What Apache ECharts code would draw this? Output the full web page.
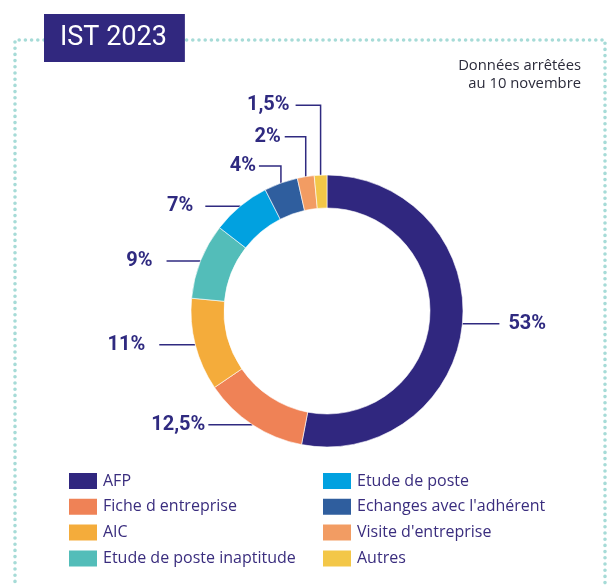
<!DOCTYPE html>
<html>
<head>
<meta charset="utf-8">
<script src="https://cdn.jsdelivr.net/npm/echarts@6/dist/echarts.min.js"></script>
<style>
html,body{margin:0;padding:0;background:#fff;}
#chart{width:614px;height:585px;}
</style>
</head>
<body>
<div id="chart"></div>
<script>
const categories = ['AFP', 'Fiche d entreprise', 'AIC', 'Etude de poste inaptitude', 'Etude de poste', "Echanges avec l'adhérent", "Visite d'entreprise", 'Autres'];
const values = [53, 12.5, 11, 9, 7, 4, 2, 1.5];
const titleText = 'IST 2023';
const noteText = 'Données arrêtées\nau 10 novembre';

const colors = ['#30277f', '#ef8256', '#f4ac3b', '#53bdb9', '#01a1e0', '#2f5e9e', '#f29c63', '#f3c748'];
const ink = '#2f2a80';

// leader-line styles per slice: horizontal (h) or elbow up then left (v)
const leaders = [
  {kind: 'h', len: 37, gap: 9},
  {kind: 'h', len: -44, gap: 3},
  {kind: 'h', len: -36, gap: 14},
  {kind: 'h', len: -34, gap: 14},
  {kind: 'h', len: -35, gap: 12},
  {kind: 'v', rise: 17, len: 22, gap: 3},
  {kind: 'v', rise: 40, len: 21, gap: 4},
  {kind: 'v', rise: 70, len: 25, gap: 6}
];

const chart = echarts.init(document.getElementById('chart'), null, {renderer: 'canvas'});

const seriesData = categories.map((name, i) => ({name: name, value: values[i], itemStyle: {color: colors[i]}}));

const legendCommon = {
  orient: 'vertical',
  icon: 'rect',
  itemWidth: 30,
  itemHeight: 18,
  itemGap: 5.8,
  padding: 0,
  height: 114,
  selectedMode: false,
  textStyle: {fontFamily: 'Open Sans', fontSize: 16, color: '#3a2d7e', lineHeight: 20}
};

chart.setOption({
  animation: false,
  title: [
    {
      text: titleText,
      left: 44,
      top: 14,
      backgroundColor: '#31287f',
      padding: [10, 18, 10, 16],
      textStyle: {fontFamily: 'Roboto', fontSize: 27, fontWeight: 'normal', color: '#ffffff', lineHeight: 28}
    },
    {
      text: noteText,
      left: 581,
      top: 57,
      textAlign: 'right',
      padding: 0,
      textStyle: {fontFamily: 'Open Sans', fontSize: 14.8, fontWeight: 'normal', color: '#2b2b3b', lineHeight: 18, align: 'right'}
    }
  ],
  legend: [
    Object.assign({}, legendCommon, {data: categories.slice(0, 4), left: 67, top: 471}),
    Object.assign({}, legendCommon, {data: categories.slice(4), left: 321, top: 471})
  ],
  graphic: [
    {
      type: 'polyline',
      z: -10,
      silent: true,
      shape: {points: [[15, 600], [15, 40], [605, 40], [605, 600]]},
      style: {fill: null, stroke: '#a6dbd7', lineWidth: 3.6, lineDash: [0, 6.2], lineCap: 'round'}
    }
  ],
  series: [{
    type: 'pie',
    center: [327, 311],
    radius: [103, 136],
    startAngle: 90,
    clockwise: true,
    avoidLabelOverlap: false,
    itemStyle: {borderColor: '#ffffff', borderWidth: 0.6},
    label: {
      show: true,
      position: 'outside',
      fontFamily: 'Roboto',
      fontSize: 20,
      fontWeight: 'bold',
      color: ink,
      formatter: p => String(p.value).replace('.', ',') + '%'
    },
    labelLine: {show: true, length: 10, length2: 10, lineStyle: {color: ink, width: 1.5}},
    labelLayout: function (params) {
      const pts = params.labelLinePoints;
      if (!pts) return {};
      const p0 = pts[0];
      const L = leaders[params.dataIndex];
      if (L.kind === 'h') {
        const ex = p0[0] + L.len;
        const right = L.len > 0;
        return {
          x: right ? ex + L.gap : ex - L.gap,
          y: p0[1],
          align: right ? 'left' : 'right',
          verticalAlign: 'middle',
          labelLinePoints: [[p0[0], p0[1]], [ex, p0[1]], [ex, p0[1]]]
        };
      } else {
        const ty = p0[1] - L.rise;
        const ex = p0[0] - L.len;
        return {
          x: ex - L.gap,
          y: ty,
          align: 'right',
          verticalAlign: 'middle',
          labelLinePoints: [[p0[0], p0[1]], [p0[0], ty], [ex, ty]]
        };
      }
    },
    emphasis: {disabled: true},
    data: seriesData
  }]
});
</script>
</body>
</html>
